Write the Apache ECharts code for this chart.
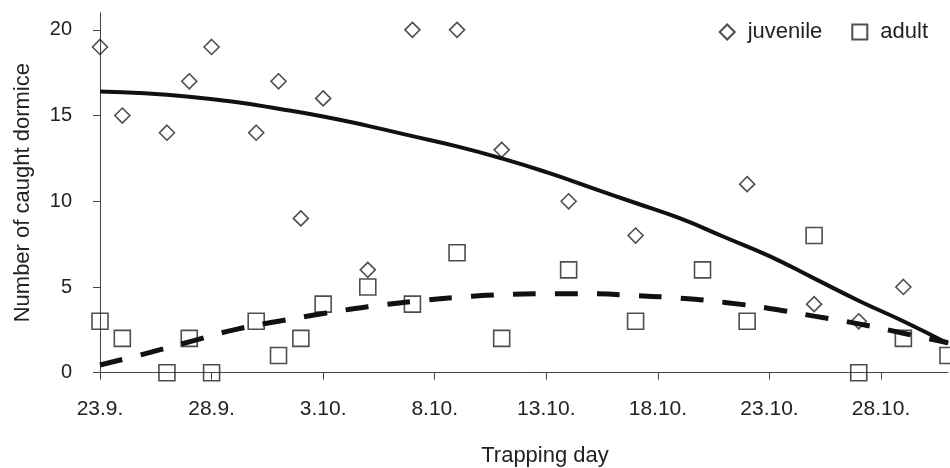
<!DOCTYPE html>
<html>
<head>
<meta charset="utf-8">
<script src="https://cdn.jsdelivr.net/npm/echarts@6/dist/echarts.min.js"></script>
<style>html,body{margin:0;padding:0;background:#fff}#c{width:950px;height:468px}</style>
</head>
<body>
<div id="c"></div>
<script>
// Trapping days (days after 23.9.)
var days = [0, 1, 3, 4, 5, 7, 8, 9, 10, 12, 14, 16, 18, 21, 24, 27, 29, 32, 34, 36, 38];
var juvenile = [19, 15, 14, 17, 19, 14, 17, 9, 16, 6, 20, 20, 13, 10, 8, null, 11, 4, 3, 5, null];
var adult = [3, 2, 0, 2, 0, 3, 1, 2, 4, 5, 4, 7, 2, 6, 3, 6, 3, 8, 0, 2, 1];

// Trend curves
var trendDays = [0, 2, 4, 6, 8, 10, 12, 14, 16, 18, 20, 22, 24, 26, 28, 30, 32, 34, 36, 38];
var juvenileTrend = [16.4, 16.3, 16.1, 15.8, 15.4, 14.95, 14.4, 13.8, 13.2, 12.5, 11.7, 10.8, 9.9, 9.0, 7.9, 6.8, 5.5, 4.2, 3.0, 1.7];
var adultTrend = [0.45, 1.1, 1.8, 2.5, 3.0, 3.45, 3.85, 4.15, 4.4, 4.55, 4.6, 4.6, 4.5, 4.35, 4.1, 3.75, 3.3, 2.85, 2.3, 1.75];

var xTickValues = [0, 5, 10, 15, 20, 25, 30, 35];
var xTickLabels = ['23.9.', '28.9.', '3.10.', '8.10.', '13.10.', '18.10.', '23.10.', '28.10.'];
var yTickValues = [0, 5, 10, 15, 20];

function pairs(xs, ys) {
  var out = [];
  for (var i = 0; i < xs.length; i++) if (ys[i] !== null) out.push([xs[i], ys[i]]);
  return out;
}

var FONT = "'Liberation Sans', Arial, sans-serif";
var chart = echarts.init(document.getElementById('c'), null, {renderer: 'canvas'});
chart.setOption({
  animation: false,
  backgroundColor: '#fff',
  grid: {left: 100, right: 2, top: 12.7, bottom: 95.3, containLabel: false, outerBoundsMode: 'none'},
  legend: {
    data: ['juvenile', 'adult'],
    right: 17, top: 16,
    itemWidth: 15, itemHeight: 15, itemGap: 29,
    textStyle: {fontFamily: FONT, fontSize: 22, color: '#222', padding: [0, 0, 0, 8]}
  },
  xAxis: {
    type: 'value', min: 0, max: 38,
    name: 'Trapping day', nameLocation: 'middle', nameGap: 72,
    nameTextStyle: {fontFamily: FONT, fontSize: 22, color: '#222', padding: [0, 0, 0, 42]},
    axisLine: {show: true, lineStyle: {color: '#444', width: 1}},
    axisTick: {show: true, length: 7, lineStyle: {color: '#444'}, customValues: xTickValues},
    axisLabel: {
      customValues: xTickValues, margin: 26,
      fontFamily: FONT, fontSize: 21, color: '#222',
      formatter: function (v) { var i = xTickValues.indexOf(v); return i >= 0 ? xTickLabels[i] : ''; }
    },
    splitLine: {show: false}
  },
  yAxis: {
    type: 'value', min: 0, max: 21,
    name: 'Number of caught dormice', nameLocation: 'middle', nameGap: 66,
    nameTextStyle: {fontFamily: FONT, fontSize: 22, color: '#222'},
    axisLine: {show: true, lineStyle: {color: '#444', width: 1}},
    axisTick: {show: true, length: 7, inside: false, lineStyle: {color: '#444'}, customValues: yTickValues},
    axisLabel: {customValues: yTickValues, margin: 28, fontFamily: FONT, fontSize: 20, color: '#222'},
    splitLine: {show: false}
  },
  series: [
    {
      name: 'juvenile', type: 'scatter', symbol: 'diamond', symbolSize: 15,
      itemStyle: {color: 'rgba(255,255,255,0)', borderColor: '#222', borderWidth: 1.6},
      data: pairs(days, juvenile), z: 2
    },
    {
      name: 'adult', type: 'scatter', symbol: 'rect', symbolSize: 16,
      itemStyle: {color: 'rgba(255,255,255,0)', borderColor: '#222', borderWidth: 1.6},
      data: pairs(days, adult), z: 2
    },
    {
      name: 'juvenile trend', type: 'line', smooth: true, symbol: 'none',
      lineStyle: {color: '#111', width: 4},
      data: pairs(trendDays, juvenileTrend), z: 3
    },
    {
      name: 'adult trend', type: 'line', smooth: true, symbol: 'none',
      lineStyle: {color: '#111', width: 5, type: [23, 19]},
      data: pairs(trendDays, adultTrend), z: 3
    }
  ]
});
</script>
</body>
</html>
